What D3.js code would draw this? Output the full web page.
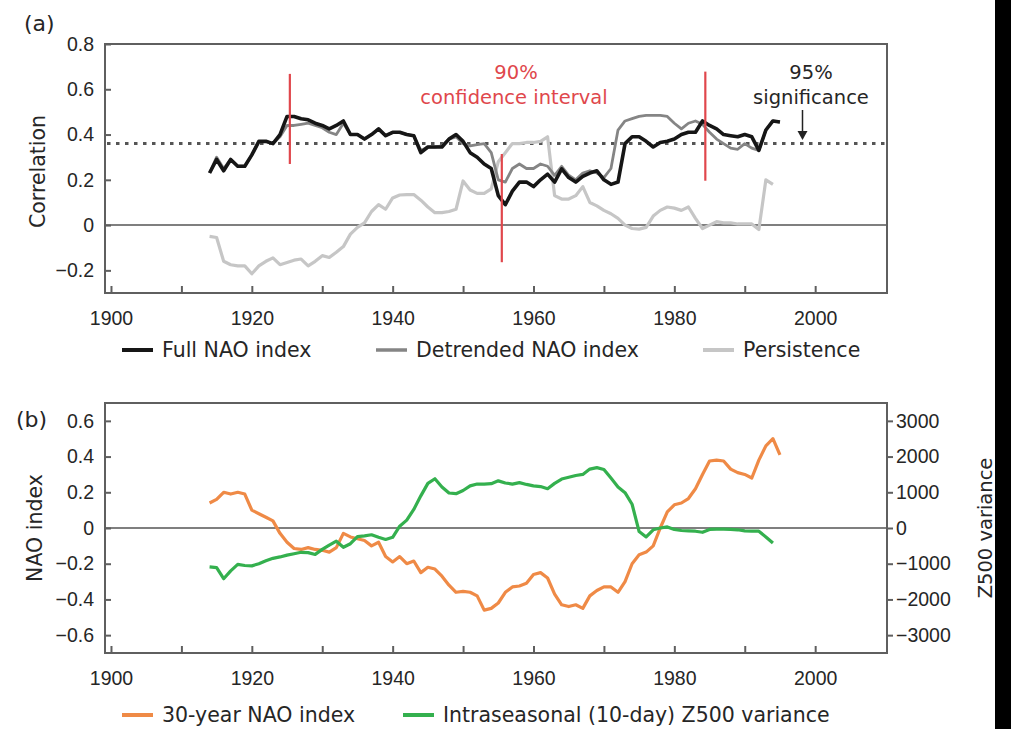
<!DOCTYPE html>
<html>
<head>
<meta charset="utf-8">
<script src="https://cdn.jsdelivr.net/npm/d3@7"></script>
<style>
  html, body { margin: 0; padding: 0; background: #fff; }
  svg { display: block; font-family: "DejaVu Sans", "Liberation Sans", sans-serif; }
</style>
</head>
<body>
<svg id="chart" width="1011" height="729"></svg>
<script>
// ---- data -------------------------------------------------------------
const firstYear = 1914;

// (a) 30-year running correlations
const fullNAO = [
  0.23, 0.29, 0.24, 0.29, 0.26, 0.26, 0.31, 0.37, 0.37, 0.36,
  0.40, 0.48, 0.48, 0.47, 0.465, 0.45, 0.44, 0.425, 0.44, 0.46,
  0.40, 0.40, 0.38, 0.40, 0.425, 0.395, 0.41, 0.41, 0.40, 0.395,
  0.32, 0.345, 0.345, 0.345, 0.38, 0.40, 0.37, 0.32, 0.30, 0.27,
  0.25, 0.13, 0.09, 0.15, 0.19, 0.19, 0.17, 0.20, 0.225, 0.19,
  0.248, 0.21, 0.19, 0.215, 0.23, 0.24, 0.20, 0.18, 0.19, 0.36,
  0.39, 0.39, 0.37, 0.345, 0.365, 0.37, 0.38, 0.40, 0.41, 0.41,
  0.46, 0.44, 0.425, 0.40, 0.395, 0.39, 0.40, 0.39, 0.33, 0.42,
  0.46, 0.455
];
const detrendedNAO = [
  0.23, 0.30, 0.25, 0.29, 0.26, 0.26, 0.31, 0.37, 0.37, 0.36,
  0.39, 0.44, 0.44, 0.445, 0.45, 0.44, 0.43, 0.41, 0.40, 0.45,
  0.40, 0.40, 0.38, 0.40, 0.425, 0.395, 0.41, 0.41, 0.40, 0.395,
  0.33, 0.345, 0.345, 0.35, 0.38, 0.39, 0.36, 0.35, 0.355, 0.36,
  0.32, 0.20, 0.19, 0.25, 0.27, 0.25, 0.25, 0.27, 0.26, 0.22,
  0.26, 0.22, 0.20, 0.23, 0.24, 0.23, 0.21, 0.25, 0.42, 0.46,
  0.47, 0.48, 0.485, 0.485, 0.485, 0.48, 0.45, 0.425, 0.45, 0.46,
  0.445, 0.41, 0.38, 0.36, 0.34, 0.335, 0.36, 0.34, 0.33, 0.42,
  0.46, 0.455
];
const persistence = [
  -0.05, -0.055, -0.16, -0.175, -0.18, -0.18, -0.215, -0.18, -0.16, -0.145,
  -0.175, -0.165, -0.155, -0.15, -0.18, -0.16, -0.135, -0.143, -0.12, -0.095,
  -0.04, -0.01, 0.01, 0.06, 0.09, 0.07, 0.12, 0.133, 0.135, 0.135,
  0.11, 0.08, 0.055, 0.055, 0.06, 0.07, 0.195, 0.155, 0.14, 0.14,
  0.16, 0.28, 0.32, 0.36, 0.36, 0.365, 0.365, 0.37, 0.39, 0.13,
  0.115, 0.115, 0.13, 0.17, 0.10, 0.085, 0.065, 0.05, 0.03, 0.0,
  -0.015, -0.018, -0.01, 0.04, 0.065, 0.08, 0.075, 0.065, 0.08, 0.03,
  -0.015, 0.0, 0.015, 0.01, 0.01, 0.005, 0.005, 0.005, -0.02, 0.20,
  0.18
];
const significance95 = 0.36;
const breakYears = [1925.4, 1955.5, 1984.4];
const breakLow   = [0.27, -0.164, 0.196];
const breakHigh  = [0.668, 0.314, 0.678];

// (b) 30-year NAO index and intraseasonal Z500 variance
const nao30 = [
  0.14, 0.16, 0.20, 0.19, 0.20, 0.19, 0.10, 0.08, 0.06, 0.04,
  -0.03, -0.08, -0.115, -0.12, -0.11, -0.12, -0.125, -0.135, -0.11, -0.03,
  -0.05, -0.06, -0.07, -0.10, -0.08, -0.16, -0.19, -0.16, -0.20, -0.185,
  -0.25, -0.22, -0.23, -0.27, -0.32, -0.36, -0.355, -0.36, -0.38, -0.46,
  -0.45, -0.42, -0.36, -0.33, -0.325, -0.31, -0.26, -0.25, -0.28, -0.37,
  -0.43, -0.44, -0.43, -0.45, -0.38, -0.35, -0.33, -0.33, -0.36, -0.30,
  -0.20, -0.15, -0.135, -0.10, 0.0, 0.09, 0.13, 0.14, 0.165, 0.22,
  0.30, 0.375, 0.38, 0.375, 0.33, 0.31, 0.30, 0.28, 0.38, 0.46,
  0.50, 0.41
];
const z500Variance = [
  -1090, -1110, -1420, -1200, -1020, -1050, -1060, -1000, -920, -850,
  -810, -760, -720, -680, -690, -740, -600, -480, -370, -540,
  -440, -240, -220, -190, -260, -320, -260, 50, 220, 520,
  900, 1250, 1380, 1150, 980, 960, 1050, 1180, 1230, 1230,
  1240, 1320, 1260, 1230, 1270, 1220, 1180, 1160, 1100, 1250,
  1370, 1420, 1470, 1500, 1650, 1690, 1640, 1400, 1150, 990,
  665, -100, -250, -50, 0, 30, -40, -70, -80, -90,
  -120, -40, -30, -30, -40, -50, -80, -90, -90, -250,
  -420
];

const xTicks = [1900, 1910, 1920, 1930, 1940, 1950, 1960, 1970, 1980, 1990, 2000];
const corrTicks = [-0.2, 0, 0.2, 0.4, 0.6, 0.8];
const naoTicks = [-0.6, -0.4, -0.2, 0, 0.2, 0.4, 0.6];
const zTicks = [-3000, -2000, -1000, 0, 1000, 2000, 3000];

const legendA = ["Full NAO index", "Detrended NAO index", "Persistence"];
const legendB = ["30-year NAO index", "Intraseasonal (10-day) Z500 variance"];

// ---- styles -------------------------------------------------------------
const C = {
  axis: "#5f5f5f", text: "#262626", zero: "#555",
  full: "#161616", detr: "#858585", pers: "#c6c6c6",
  red: "#e0474c", orange: "#ef8a46", green: "#34b04e"
};

const svg = d3.select("#chart");
svg.append("rect").attr("width", 1011).attr("height", 729).attr("fill", "#fff");
svg.append("rect").attr("x", 995).attr("y", 0).attr("width", 16).attr("height", 729).attr("fill", "#000");

const plotL = 105, plotR = 887;
const x = d3.scaleLinear().domain([1899.15, 2010.2]).range([plotL, plotR]);

function series(vals) { return vals.map((v, i) => ({ year: firstYear + i, v })); }

function drawBottomAxis(g, y0) {
  const ax = d3.axisBottom(x).tickValues(xTicks).tickSize(-7).tickPadding(18)
    .tickFormat(d => d % 20 === 0 ? String(d) : "");
  const a = g.append("g").attr("transform", `translate(0,${y0})`).call(ax);
  a.select(".domain").remove();
  a.selectAll(".tick line").attr("stroke", C.axis).attr("stroke-width", 2);
  a.selectAll(".tick text").attr("fill", C.text).attr("font-size", 19.5);
}
function drawLeftAxis(g, y, ticks) {
  const ax = d3.axisLeft(y).tickValues(ticks).tickSize(-6).tickPadding(11)
    .tickFormat(d => d === 0 ? "0" : d3.format(".1f")(d));
  const a = g.append("g").attr("transform", `translate(${plotL},0)`).call(ax);
  a.select(".domain").remove();
  a.selectAll(".tick line").attr("stroke", C.axis).attr("stroke-width", 2);
  a.selectAll(".tick text").attr("fill", C.text).attr("font-size", 19.5);
}
function frame(g, top, bottom) {
  g.append("rect").attr("x", plotL).attr("y", top)
    .attr("width", plotR - plotL).attr("height", bottom - top)
    .attr("fill", "none").attr("stroke", C.axis).attr("stroke-width", 2);
}
function legend(g, y0, items) {
  items.forEach(it => {
    g.append("line").attr("x1", it.x1).attr("x2", it.x1 + 31).attr("y1", y0).attr("y2", y0)
      .attr("stroke", it.color).attr("stroke-width", it.w);
    g.append("text").attr("x", it.x1 + 40).attr("y", y0).attr("dy", "0.36em")
      .attr("font-size", 20.5).attr("fill", C.text).text(it.label);
  });
}

// ---- panel (a) ---------------------------------------------------------
const aTop = 44, aBot = 293;
const ya = d3.scaleLinear().domain([-0.3, 0.8]).range([aBot, aTop]);
const gA = svg.append("g");

gA.append("line").attr("x1", plotL).attr("x2", plotR).attr("y1", ya(0)).attr("y2", ya(0))
  .attr("stroke", C.zero).attr("stroke-width", 1.5);
gA.append("line").attr("x1", plotL + 2).attr("x2", plotR - 2)
  .attr("y1", ya(significance95)).attr("y2", ya(significance95))
  .attr("stroke", "#555").attr("stroke-width", 3).attr("stroke-dasharray", "3.5 5.5");

const lineA = d3.line().x(d => x(d.year)).y(d => ya(d.v)).curve(d3.curveLinear);
gA.append("path").datum(series(persistence)).attr("d", lineA)
  .attr("fill", "none").attr("stroke", C.pers).attr("stroke-width", 3.2).attr("stroke-linejoin", "round");
gA.append("path").datum(series(detrendedNAO)).attr("d", lineA)
  .attr("fill", "none").attr("stroke", C.detr).attr("stroke-width", 2.8).attr("stroke-linejoin", "round");
gA.append("path").datum(series(fullNAO)).attr("d", lineA)
  .attr("fill", "none").attr("stroke", C.full).attr("stroke-width", 3.6).attr("stroke-linejoin", "round");

breakYears.forEach((yr, i) => {
  gA.append("line").attr("x1", x(yr)).attr("x2", x(yr))
    .attr("y1", ya(breakHigh[i])).attr("y2", ya(breakLow[i]))
    .attr("stroke", C.red).attr("stroke-width", 2.2);
});

frame(gA, aTop, aBot);
drawLeftAxis(gA, ya, corrTicks);
drawBottomAxis(gA, aBot);

gA.append("text").attr("x", 24).attr("y", 31).attr("font-size", 22).attr("fill", C.text).text("(a)");
gA.append("text").attr("transform", `translate(45,${(aTop + aBot) / 2 + 3}) rotate(-90)`)
  .attr("text-anchor", "middle").attr("font-size", 20.5).attr("fill", C.text).text("Correlation");

gA.append("text").attr("x", 516).attr("y", 79).attr("text-anchor", "middle")
  .attr("font-size", 19.5).attr("fill", C.red).text("90%");
gA.append("text").attr("x", 514).attr("y", 104).attr("text-anchor", "middle")
  .attr("font-size", 19.5).attr("fill", C.red).text("confidence interval");
gA.append("text").attr("x", 811).attr("y", 79).attr("text-anchor", "middle")
  .attr("font-size", 19.5).attr("fill", C.text).text("95%");
gA.append("text").attr("x", 811).attr("y", 104).attr("text-anchor", "middle")
  .attr("font-size", 19.5).attr("fill", C.text).text("significance");
const arrowX = x(1998.2);
gA.append("line").attr("x1", arrowX).attr("x2", arrowX).attr("y1", 110).attr("y2", 132)
  .attr("stroke", "#222").attr("stroke-width", 1.5);
gA.append("path").attr("d", `M${arrowX - 5},131 L${arrowX + 5},131 L${arrowX},140 Z`).attr("fill", "#222");

legend(gA, 350, [
  { x1: 122, label: legendA[0], color: C.full, w: 4 },
  { x1: 376, label: legendA[1], color: C.detr, w: 3.5 },
  { x1: 703, label: legendA[2], color: C.pers, w: 4 }
]);

// ---- panel (b) ---------------------------------------------------------
const bTop = 403, bBot = 653;
const yb = d3.scaleLinear().domain([-0.7, 0.7]).range([bBot, bTop]);
const yz = d3.scaleLinear().domain([-3500, 3500]).range([bBot, bTop]);
const gB = svg.append("g");

gB.append("line").attr("x1", plotL).attr("x2", plotR).attr("y1", yb(0)).attr("y2", yb(0))
  .attr("stroke", C.zero).attr("stroke-width", 1.5);

const lineNao = d3.line().x(d => x(d.year)).y(d => yb(d.v));
const lineZ = d3.line().x(d => x(d.year)).y(d => yz(d.v));
gB.append("path").datum(series(nao30)).attr("d", lineNao)
  .attr("fill", "none").attr("stroke", C.orange).attr("stroke-width", 3.2).attr("stroke-linejoin", "round");
gB.append("path").datum(series(z500Variance)).attr("d", lineZ)
  .attr("fill", "none").attr("stroke", C.green).attr("stroke-width", 3.2).attr("stroke-linejoin", "round");

frame(gB, bTop, bBot);
drawLeftAxis(gB, yb, naoTicks);
drawBottomAxis(gB, bBot);

const axR = d3.axisRight(yz).tickValues(zTicks).tickSize(6).tickPadding(3).tickFormat(d3.format("d"));
const aR = gB.append("g").attr("transform", `translate(${plotR},0)`).call(axR);
aR.select(".domain").remove();
aR.selectAll(".tick line").attr("stroke", C.axis).attr("stroke-width", 2);
aR.selectAll(".tick text").attr("fill", C.text).attr("font-size", 19.5);

gB.append("text").attr("x", 16).attr("y", 427).attr("font-size", 22).attr("fill", C.text).text("(b)");
gB.append("text").attr("transform", `translate(42,${(bTop + bBot) / 2}) rotate(-90)`)
  .attr("text-anchor", "middle").attr("font-size", 20.5).attr("fill", C.text).text("NAO index");
gB.append("text").attr("transform", `translate(992,${(bTop + bBot) / 2}) rotate(-90)`)
  .attr("text-anchor", "middle").attr("font-size", 19.5).attr("fill", C.text).text("Z500 variance");

legend(gB, 715, [
  { x1: 122, label: legendB[0], color: C.orange, w: 4 },
  { x1: 403, label: legendB[1], color: C.green, w: 4 }
]);
</script>
</body>
</html>
